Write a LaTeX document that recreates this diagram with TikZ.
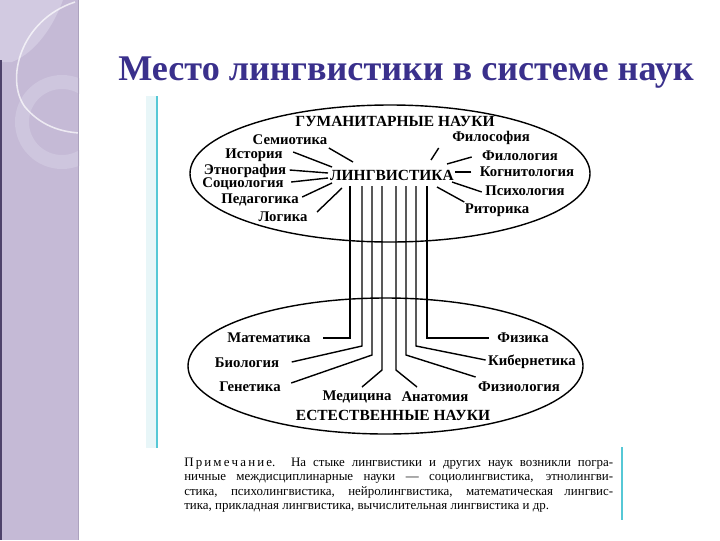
\documentclass[tikz,border=0pt]{standalone}
\usepackage{fontspec}
\setmainfont{Liberation Serif}
\usetikzlibrary{positioning}
\definecolor{titleblue}{RGB}{58,48,140}
\definecolor{side}{RGB}{197,186,214}
\definecolor{sidelight}{RGB}{210,202,225}
\definecolor{sidering}{RGB}{206,198,222}
\definecolor{sidedark}{RGB}{78,66,106}
\definecolor{sideedge}{RGB}{172,162,190}
\definecolor{rule}{RGB}{86,200,214}
\definecolor{ruleshade}{RGB}{232,246,248}
\begin{document}
\begin{tikzpicture}[x=0.025cm,y=-0.025cm,
    label node/.style={font=\fontsize{10.5}{12}\selectfont\bfseries,inner sep=0.2pt,anchor=base},
    head node/.style={font=\fontsize{11}{13}\selectfont\bfseries,inner sep=0.5pt,anchor=base},
    note node/.style={font=\fontsize{9.2}{9.96}\selectfont,inner sep=0pt,align=left,anchor=base west},
    link/.style={-,line width=1pt}]
  \useasboundingbox (0,0) rectangle (720,540);
  \fill[white] (0,0) rectangle (720,540);
  \begin{scope}
    \clip (0,0) rectangle (79,540);
    \fill[side] (0,0) rectangle (79,540);
    \fill[sidelight] (0,0) -- (63,0) .. controls (50,35) and (30,55) .. (12,62) -- (0,62) -- cycle;
    \fill[sidering,even odd rule] (62,122) circle (47) (62,122) circle (33);
    \draw[white,line width=1.1pt,opacity=0.7] (75,2) .. controls (20,20) and (5,80) .. (25,107) .. controls (40,125) and (60,132) .. (80,133);
    \fill[sidedark] (0,60) rectangle (1.5,540);
    \draw[sideedge,line width=0.8pt] (78.7,0) -- (78.7,540);
  \end{scope}
  \fill[ruleshade] (146,96) rectangle (156,448);
  \draw[rule,line width=1.2pt] (157,96) -- (157,448);
  \draw[rule,line width=1.2pt] (622,447) -- (622,520);

  \node[font=\fontsize{25.7}{29}\selectfont\bfseries,text=titleblue,anchor=base] (t) at (406,80) {Место лингвистики в системе наук};

  \draw[line width=1pt] (390,173.5) ellipse [x radius=200, y radius=68.5];
  \draw[line width=1pt] (385.5,366) ellipse [x radius=197.5, y radius=68];

  \node[head node] (g) at (395,126) {ГУМАНИТАРНЫЕ НАУКИ};
  \node[head node] (l) at (392,180) {ЛИНГВИСТИКА};
  \node[label node] (a) at (290,144.5) {Семиотика};
  \node[label node] (b) at (254,158) {История};
  \node[label node] (c) at (245,174) {Этнография};
  \node[label node] (d) at (243,187) {Социология};
  \node[label node] (e) at (260,203) {Педагогика};
  \node[label node] (f) at (283,221) {Логика};
  \node[label node] (h) at (491,141) {Философия};
  \node[label node] (i) at (520,160) {Филология};
  \node[label node] (j) at (527,176) {Когнитология};
  \node[label node] (k) at (525,195) {Психология};
  \node[label node] (m) at (497,213) {Риторика};

  \path[link] ([shift={(1,3.5)}]a.base east) edge ([shift={(-39,-18)}]l.base);
  \path[link] ([shift={(10,-6)}]b.base east) edge ([shift={(-60,-13)}]l.base);
  \path[link] ([shift={(3,-4)}]c.base east) edge ([shift={(-64,-7)}]l.base);
  \path[link] ([shift={(7,-5)}]d.base east) edge ([shift={(-64,-2)}]l.base);
  \path[link] ([shift={(3,-6)}]e.base east) edge ([shift={(-60,3)}]l.base);
  \path[link] ([shift={(9,-9)}]f.base east) edge ([shift={(-50,8)}]l.base);
  \path[link] ([shift={(-13,7)}]h.base west) edge ([shift={(39,-20)}]l.base);
  \path[link] ([shift={(-10,-3)}]i.base west) edge ([shift={(55,-16)}]l.base);
  \path[link] ([shift={(-8,-4)}]j.base west) edge ([shift={(63,-8)}]l.base);
  \path[link] ([shift={(-3,-3)}]k.base west) edge ([shift={(60,2)}]l.base);
  \path[link] ([shift={(0,-11)}]m.base west) edge ([shift={(45,7)}]l.base);

  \node[head node] (n) at (393,420) {ЕСТЕСТВЕННЫЕ НАУКИ};
  \node[label node] (o) at (269,342) {Математика};
  \node[label node] (p) at (247,367) {Биология};
  \node[label node] (q) at (250,391) {Генетика};
  \node[label node] (r) at (357,400) {Медицина};
  \node[label node] (s) at (435,401) {Анатомия};
  \node[label node] (u) at (519,391) {Физиология};
  \node[label node] (v) at (532,365) {Кибернетика};
  \node[label node] (w) at (523,342) {Физика};

  \draw[link] ([shift={(-42,6)}]l.base) -- ++(0,152) -- ([shift={(12,-4)}]o.base east);
  \draw[link] ([shift={(-30,6)}]l.base) -- ++(0,160) -- ([shift={(12,-5)}]p.base east);
  \draw[link] ([shift={(-20,6)}]l.base) -- ++(0,169) -- ([shift={(10,-8)}]q.base east);
  \draw[link] ([shift={(-10,6)}]l.base) -- ++(0,184) -- ([shift={(5,-13)}]r.base);
  \draw[link] ([shift={(4,6)}]l.base) -- ++(0,184) -- ([shift={(-18,-14)}]s.base);
  \draw[link] ([shift={(14,6)}]l.base) -- ++(0,169) -- ([shift={(-2,-14)}]u.base west);
  \draw[link] ([shift={(24,6)}]l.base) -- ++(0,160) -- ([shift={(-2,-5)}]v.base west);
  \draw[link] ([shift={(35,6)}]l.base) -- ++(0,152) -- ([shift={(-8,-4)}]w.base west);

  \node[note node] (x) at (184,509) {\makebox[305pt][s]{П\,р\,и\,м\,е\,ч\,а\,н\,и\,е. На стыке лингвистики и других наук возникли погра-}\\
    \makebox[305pt][s]{ничные междисциплинарные науки — социолингвистика, этнолингви-}\\
    \makebox[305pt][s]{стика, психолингвистика, нейролингвистика, математическая лингвис-}\\
    тика, прикладная лингвистика, вычислительная лингвистика и др.};
\end{tikzpicture}
\end{document}
